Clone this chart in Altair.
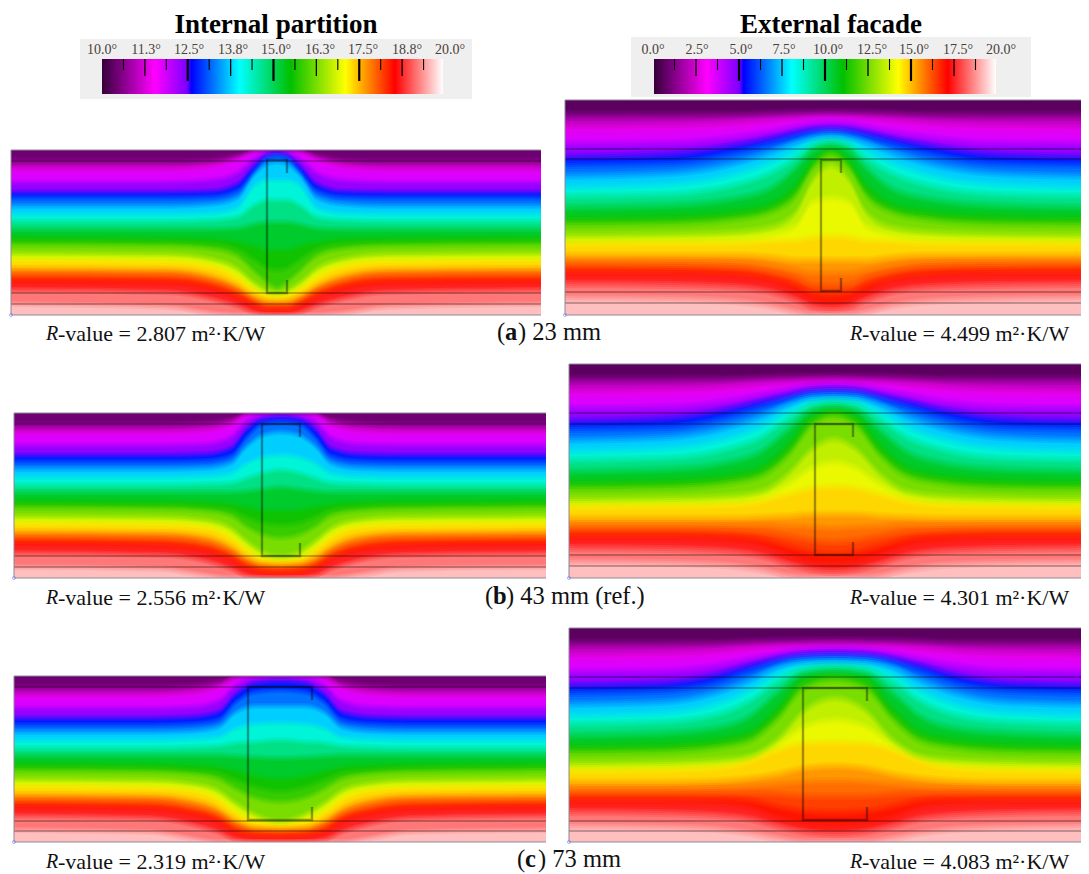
import altair as alt
import pandas as pd

FONT = "Liberation Serif"
STOP_T = [0.0, 0.155, 0.25, 0.262, 0.403, 0.553, 0.714, 0.859, 1.0]
STOP_C = ["#35003a", "#ff00ff", "#7a00ff", "#0000ff", "#00ffff", "#00c000", "#ffff00", "#ff0000", "#ffffff"]
LEVELS = [.06, .08, .12, .155, .205, .255, .30, .35, .403, .45, .50, .553, .575, .60, .66, .69, .714, .76, .785, .81, .835, .859, .90, .95]

# isotherm depth below the panel's top, one row per level, from far field to stud centre
LEFT_A_DX = [265, 110, 65, 40, 22, 10, 0]
LEFT_A = [[10,10,9,5,0,0,0],[13,13,11,6,0,0,0],[18,18,15,8,1,0,0],[22,22,19,11,2,0,0],
          [32,32,30,23,8,2,1],[42,42,41,34,15,5,3],[48,48,47,41,20,8,6],[56,56,54,48,24,14,12],
          [64,64,63,58,35,30,30],[71,71,70,67,55,50,50],[79,79,79,78,74,72,72],[87,88,89,92,96,100,100],
          [91,92,94,99,110,118,120],[95,96,99,106,122,132,138],[103,104,109,118,133,140,142],
          [107,108,113,123,137,143,145],[111,112,117,128,140,146,147],
          [118,119,125,135,146,150,151],[121,122,129,138,149,153,153],[125,126,132,141,151,155,155],
          [129,130,136,145,154,158,158],[133,134,140,148,157,160,161],
          [140,142,149,156,163,165,165],[154,157,163,165,165,165,165]]
LEFT_B_DX = [265, 120, 75, 50, 34, 18, 0]
LEFT_B = [[10,10,9,5,0,0,0],[13,13,11,7,0,0,0],[18,18,16,10,1,0,0],[22,22,20,13,2,0,0],
          [32,32,31,24,8,2,1],[42,42,41,35,16,6,4],[49,49,48,43,24,11,9],[56,56,55,50,33,22,19],
          [64,64,63,60,50,44,42],[72,72,71,70,65,60,57],[79,79,79,79,78,76,74],[87,88,89,91,94,97,98],
          [91,92,94,97,104,110,112],[95,96,98,103,114,122,125],[103,104,107,115,128,139,143],
          [107,108,111,120,133,143,146],[111,112,115,125,137,146,148],
          [118,119,123,133,144,150,151],[121,122,127,137,147,152,153],[125,126,131,140,150,154,155],
          [128,130,135,144,153,157,158],[132,134,139,147,156,160,161],
          [140,142,148,156,163,165,165],[154,156,162,165,165,165,165]]
LEFT_C_DX = [265, 130, 90, 62, 44, 25, 0]
LEFT_C = [[10,10,9,5,0,0,0],[13,13,11,7,0,0,0],[18,18,16,10,2,0,0],[22,22,20,14,3,0,0],
          [32,32,31,25,9,2,1],[42,42,41,36,18,7,5],[49,49,48,44,26,16,14],[56,56,55,51,36,30,30],
          [64,64,63,61,52,48,47],[72,72,71,70,67,66,64],[79,79,79,79,80,81,82],[87,88,89,91,95,100,103],
          [91,92,94,97,104,111,115],[95,96,98,103,113,122,126],[103,104,107,114,127,138,145],
          [107,108,111,119,132,142,147],[111,112,115,124,137,146,149],
          [118,119,123,132,144,151,152],[121,122,127,136,147,153,154],[125,126,131,139,150,155,156],
          [128,130,135,143,154,158,159],[132,134,139,147,157,161,162],
          [140,142,148,156,164,166,166],[154,156,162,166,166,166,166]]
RIGHT_A_DX = [265, 160, 100, 60, 35, 18, 0]
RIGHT_A = [[14,14,14,13,12,12,12],[17,17,16,14,14,13,13],[25,24,22,19,17,16,15],[33,32,29,25,21,19,18],
           [44,43,38,32,27,24,23],[57,54,46,38,32,29,28],[65,63,54,44,37,33,31],[76,73,64,52,42,37,35],
           [87,84,75,62,50,41,38],[96,94,86,73,58,45,41],[107,105,99,88,68,50,45],[117,115,111,103,84,60,49],
           [121,120,116,108,90,64,52],[125,124,120,112,96,68,55],[135,134,132,127,112,80,65],
           [140,139,138,134,126,102,98],[144,143,143,141,140,137,136],
           [155,155,155,157,160,160,160],[160,160,161,165,170,173,173],[165,166,167,172,178,185,186],
           [170,170,172,177,185,193,195],[175,175,177,182,192,200,203],
           [184,185,187,192,200,207,209],[198,199,201,206,212,215,215]]
RIGHT_B_DX = [265, 165, 110, 72, 46, 22, 0]
RIGHT_B = [[14,14,14,13,12,12,12],[17,17,16,14,14,13,13],[25,24,22,19,17,16,15],[33,32,29,25,21,19,18],
           [44,43,38,31,26,22,21],[57,54,46,37,31,26,25],[65,63,54,43,35,29,28],[76,73,64,52,40,33,32],
           [87,84,75,62,47,37,35],[96,94,86,73,55,41,38],[107,105,99,87,66,46,42],[117,115,111,102,80,52,46],
           [121,120,116,107,86,56,49],[125,124,120,112,92,62,52],[135,134,132,127,110,85,75],
           [139,138,137,132,120,104,98],[143,142,141,137,130,124,122],
           [154,154,154,153,152,150,150],[160,160,160,160,162,163,164],[165,165,166,168,172,176,178],
           [170,170,171,175,182,188,190],[175,175,177,182,192,199,201],
           [184,185,187,192,200,206,208],[198,199,201,206,212,214,214]]
RIGHT_C_DX = [265, 175, 120, 85, 58, 30, 0]
RIGHT_C = [[14,14,14,13,12,12,12],[17,17,16,14,14,13,13],[25,24,22,19,17,16,15],[33,32,29,25,21,19,18],
           [44,43,38,31,26,22,21],[57,55,47,37,30,26,25],[65,63,55,43,34,29,28],[76,74,65,52,39,33,32],
           [87,85,76,62,46,37,35],[96,94,87,73,54,41,38],[107,105,100,88,65,45,42],[117,115,111,103,80,50,46],
           [121,120,116,108,86,54,49],[125,124,120,113,92,60,52],[135,134,132,128,112,82,70],
           [139,138,136,130,117,98,92],[143,142,140,133,122,115,114],
           [154,154,153,150,146,140,138],[160,160,159,158,156,154,153],[165,165,165,165,166,168,168],
           [170,170,170,172,178,183,184],[175,175,176,180,190,197,199],
           [184,185,187,191,198,204,206],[198,199,201,205,210,214,214]]

# name, table, stations, left, right, top, bottom, stud centre, stud half width, stud top, stud bottom, base t, lines
PANELS = [
    ("la", LEFT_A, LEFT_A_DX, 11, 541, 150, 315, 277, 10, 160, 293, .03, [161, 293, 304]),
    ("ra", RIGHT_A, RIGHT_A_DX, 565, 1089, 100, 315, 831, 10, 160, 291, .0, [149, 159, 292, 303]),
    ("lb", LEFT_B, LEFT_B_DX, 14, 546, 413, 578, 281, 19, 424, 556, .03, [424, 556, 567]),
    ("rb", RIGHT_B, RIGHT_B_DX, 569, 1089, 364, 578, 834, 19, 424, 555, .0, [413, 424, 555, 566]),
    ("lc", LEFT_C, LEFT_C_DX, 14, 546, 676, 842, 280, 32, 687, 820, .03, [687, 821, 831]),
    ("rc", RIGHT_C, RIGHT_C_DX, 569, 1089, 628, 842, 835, 32, 688, 820, .0, [677, 688, 821, 831]),
]
LIP = 13
SHIFTS = [0, -1, 1, -2, 2]   # steps of the soft shading
OPAC = [1, 1 / 2, 1 / 3, 1 / 4, 1 / 5]

field_rows, base_rows, line_rows, stud_rows, edge_rows, corner_rows = [], [], [], [], [], []
for name, table, dxs, x0, x1, y0, y1, xc, hw, st, sb, bt, lines in PANELS:
    H = y1 - y0
    unit = 1.5 * H / 165
    base_rows.append(dict(x=x0, x2=x1, y=y0, y2=y1, t=(bt + LEVELS[0]) / 2))
    xs = [x0] + [xc - d for d in dxs[1:]] + [xc + d for d in dxs[-2:0:-1]] + [x1]
    def series(row):
        return list(row) + list(row[-2::-1])
    for lay, sh in enumerate(SHIFTS):
        curves = [[max(0, min(H, v + sh * unit)) for v in series(r)] for r in table]
        n = len(curves)
        if lay > 0:
            for j, x in enumerate(xs):
                field_rows.append(dict(lay=lay, key=f"{name}b", x=x, y=y0, y2=y0 + curves[0][j],
                                       t=(bt + LEVELS[0]) / 2))
        for i in range(n):
            hi = LEVELS[i + 1] if i + 1 < n else .98
            tm = (LEVELS[i] + hi) / 2
            for j, x in enumerate(xs):
                bot = H if (lay == 0 or i + 1 == n) else curves[i + 1][j]
                field_rows.append(dict(lay=lay, key=f"{name}{i:02d}", x=x, y=y0 + curves[i][j], y2=y0 + bot, t=tm))
    for ly in lines:
        line_rows.append(dict(x=x0, x2=x1, y=ly))
    xl, xr = xc - hw, xc + hw
    path = [(xr, st + LIP), (xr, st), (xl, st), (xl, sb), (xr, sb), (xr, sb - LIP)]
    for k, (px, py) in enumerate(path):
        stud_rows.append(dict(key=name, k=k, x=px, y=py))
    edge_rows.append(dict(x=x0, x2=x0, y=y0, y2=y1))
    edge_rows.append(dict(x=x0, x2=x1, y=y1, y2=y1))
    edge_rows.append(dict(x=x0, x2=x1, y=y0, y2=y0))
    corner_rows.append(dict(x=x0, y=y1))

field = pd.DataFrame(field_rows)
X = alt.X("x:Q", scale=alt.Scale(domain=[8, 1081], nice=False, zero=False), axis=None)
Y = alt.Y("y:Q", scale=alt.Scale(domain=[8, 874], nice=False, zero=False, reverse=True), axis=None, stack=None)
COLOR = alt.Color("t:Q", scale=alt.Scale(domain=STOP_T, range=STOP_C, interpolate="rgb"), legend=None)

layers = [alt.Chart(pd.DataFrame(base_rows)).mark_rect().encode(x=X, x2="x2:Q", y=Y, y2="y2:Q", color=COLOR)]
for lay, op in enumerate(OPAC):
    layers.append(
        alt.Chart(field[field.lay == lay]).mark_area(interpolate="monotone", orient="vertical", opacity=op)
        .encode(x=X, y=Y, y2="y2:Q", color=COLOR, detail="key:N")
    )
layers.append(alt.Chart(pd.DataFrame(line_rows)).mark_rule(color="#000000", opacity=.5, strokeWidth=1)
              .encode(x=X, x2="x2:Q", y=Y))
layers.append(alt.Chart(pd.DataFrame(edge_rows)).mark_rule(color="#8a8a96", strokeWidth=1)
              .encode(x=X, x2="x2:Q", y=Y, y2="y2:Q"))
layers.append(alt.Chart(pd.DataFrame(stud_rows)).mark_line(color="#000000", opacity=.36, strokeWidth=2.4)
              .encode(x=X, y=Y, detail="key:N", order="k:Q"))
layers.append(alt.Chart(pd.DataFrame(corner_rows)).mark_point(shape="circle", size=10, color="#7a7aff", strokeWidth=.8)
              .encode(x=X, y=Y))

# colour bars
BARS = [
    dict(box=(80, 472, 39, 99), bar=(102, 443, 59, 94), x_at_min=102, per_deg=34.3, lo=10,
         labels=["10.0°", "11.3°", "12.5°", "13.8°", "15.0°", "16.3°", "17.5°", "18.8°", "20.0°"],
         label_x=[102, 146, 189, 233, 276, 320, 363, 407, 450]),
    dict(box=(631, 1031, 37, 97), bar=(654, 996, 59, 94), x_at_min=653, per_deg=17.2, lo=0,
         labels=["0.0°", "2.5°", "5.0°", "7.5°", "10.0°", "12.5°", "15.0°", "17.5°", "20.0°"],
         label_x=[653, 697, 741, 784, 828, 872, 914, 958, 1001]),
]
grad = alt.Gradient(gradient="linear", x1=0, x2=1, y1=0, y2=0,
                    stops=[alt.GradientStop(offset=o, color=c) for o, c in zip(STOP_T, STOP_C)])
box_rows, bar_rows, tick_rows, lab_rows = [], [], [], []
for b in BARS:
    box_rows.append(dict(x=b["box"][0], x2=b["box"][1], y=b["box"][2], y2=b["box"][3]))
    bar_rows.append(dict(x=b["bar"][0], x2=b["bar"][1], y=b["bar"][2], y2=b["bar"][3]))
    step = 10 / 16 if b["lo"] == 10 else 20 / 16
    for k in range(1, 16):
        if k % 4 == 0:
            size, end = 2.2, 81
        elif k % 2 == 0:
            size, end = 1.3, 76
        else:
            size, end = 1.1, 70
        tick_rows.append(dict(x=b["x_at_min"] + k * step * b["per_deg"], y=59, y2=end, w=size))
    for lx, lt in zip(b["label_x"], b["labels"]):
        lab_rows.append(dict(x=lx, y=50, text=lt))
layers.append(alt.Chart(pd.DataFrame(box_rows)).mark_rect(color="#efefef").encode(x=X, x2="x2:Q", y=Y, y2="y2:Q"))
layers.append(alt.Chart(pd.DataFrame(bar_rows)).mark_rect(color=grad).encode(x=X, x2="x2:Q", y=Y, y2="y2:Q"))
layers.append(alt.Chart(pd.DataFrame(tick_rows)).mark_rule(color="#000000")
              .encode(x=X, y=Y, y2="y2:Q", strokeWidth=alt.StrokeWidth("w:Q", scale=None)))
layers.append(alt.Chart(pd.DataFrame(lab_rows)).mark_text(font=FONT, fontSize=14, color="#4a4038", align="center", baseline="middle")
              .encode(x=X, y=Y, text="text:N"))

# texts
TITLES = [("Internal partition", 276, 25), ("External facade", 831, 25)]
layers.append(alt.Chart(pd.DataFrame([dict(text=t, x=x, y=y) for t, x, y in TITLES]))
              .mark_text(font=FONT, fontSize=27, fontWeight="bold", color="#000000", align="center", baseline="middle")
              .encode(x=X, y=Y, text="text:N"))
R_VALUES = [("2.807", 46, 334), ("4.499", 850, 334), ("2.556", 46, 598), ("4.301", 850, 598), ("2.319", 46, 862), ("4.083", 850, 862)]
layers.append(alt.Chart(pd.DataFrame([dict(x=x, y=y, text="R") for _, x, y in R_VALUES]))
              .mark_text(font=FONT, fontSize=20, fontStyle="italic", color="#111111", align="left", baseline="middle")
              .encode(x=X, y=Y, text="text:N"))
layers.append(alt.Chart(pd.DataFrame([dict(x=x + 12, y=y, text=f"-value = {v} m²·K/W") for v, x, y in R_VALUES]))
              .mark_text(font=FONT, fontSize=22, color="#111111", align="left", baseline="middle")
              .encode(x=X, y=Y, text="text:N"))
CAPTIONS = [("a", "23 mm", 497, 333), ("b", "43 mm (ref.)", 485, 597), ("c", "73 mm", 517, 860)]
cap_plain, cap_bold = [], []
for letter, rest, x, y in CAPTIONS:
    cap_plain.append(dict(x=x, y=y, text="("))
    cap_bold.append(dict(x=x + 8, y=y, text=letter))
    cap_plain.append(dict(x=x + 21, y=y, text=") " + rest))
layers.append(alt.Chart(pd.DataFrame(cap_plain)).mark_text(font=FONT, fontSize=24.5, color="#111111", align="left", baseline="middle")
              .encode(x=X, y=Y, text="text:N"))
layers.append(alt.Chart(pd.DataFrame(cap_bold)).mark_text(font=FONT, fontSize=24.5, fontWeight="bold", color="#111111", align="left", baseline="middle")
              .encode(x=X, y=Y, text="text:N"))

chart = alt.layer(*layers).properties(
    width=1073, height=866, padding=0, autosize=alt.AutoSizeParams(type="none")
).configure_view(stroke=None)
chart.save("out.html", embed_options={"renderer": "svg", "actions": False})
